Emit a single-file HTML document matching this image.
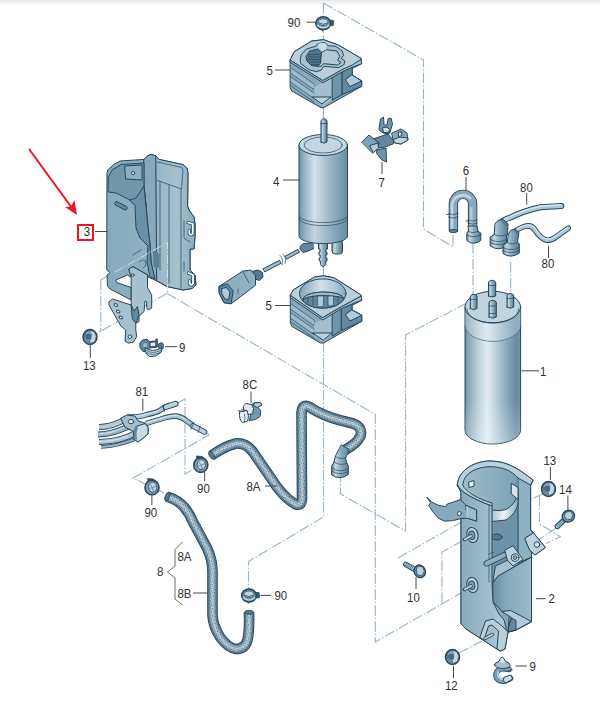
<!DOCTYPE html>
<html><head><meta charset="utf-8"><title>Fuel filter / pump parts diagram</title>
<style>
html,body{margin:0;padding:0;background:#fff;}
body{width:600px;height:705px;overflow:hidden;position:relative;}
svg{display:block;position:absolute;left:0;top:0;}
text{font-family:"Liberation Sans",sans-serif;font-size:12.2px;fill:#303030;}
.o{stroke:#27465a;stroke-width:1;stroke-linejoin:round;stroke-linecap:round;}
.t{stroke:#27465a;stroke-width:.7;fill:none;stroke-linejoin:round;stroke-linecap:round;}
.dd{stroke:#94b6c9;stroke-width:1.1;fill:none;stroke-dasharray:10.5 2 1.5 2;}
.ld{stroke:#484848;stroke-width:1;fill:none;}
.L{fill:#c6d9e4}.M{fill:#93b4c7}.D{fill:#6289a1}.K{fill:#466b82}
</style></head><body>
<svg width="600" height="705" viewBox="0 0 600 705">
<defs>
<linearGradient id="topsh" x1="0" y1="0" x2="0" y2="1"><stop offset="0" stop-color="#e6e6e6"/><stop offset="1" stop-color="#fff"/></linearGradient>
<linearGradient id="cyl" x1="0" y1="0" x2="1" y2="0">
<stop offset="0" stop-color="#7093a9"/><stop offset=".07" stop-color="#89aabd"/><stop offset=".22" stop-color="#b7cdd9"/><stop offset=".4" stop-color="#e2ecf1"/><stop offset=".56" stop-color="#b9cfdb"/><stop offset=".76" stop-color="#86a8bc"/><stop offset=".92" stop-color="#668ca4"/><stop offset="1" stop-color="#7196ac"/></linearGradient>
<linearGradient id="cyl2" x1="0" y1="0" x2="1" y2="0">
<stop offset="0" stop-color="#6a90a7"/><stop offset=".22" stop-color="#c4d8e3"/><stop offset=".5" stop-color="#8eafc2"/><stop offset="1" stop-color="#557d96"/></linearGradient>
<pattern id="dots" width="3" height="3" patternUnits="userSpaceOnUse" patternTransform="rotate(28)"><circle cx=".8" cy=".8" r=".62" fill="#2a495d"/><circle cx="2.3" cy="2.3" r=".62" fill="#2a495d"/></pattern>
</defs>
<rect width="600" height="705" fill="#fff"/>
<rect width="600" height="5" fill="url(#topsh)"/>
<!--LINES-->
<g class="dd">
<path d="M323.4 3V41M323.4 108V119M323.4 266V278"/>
<path d="M323.4 3L423.5 60V229L453 247V232"/>
<path d="M473 243V295M510.7 262V294"/>
<path d="M100.8 280L167.5 242.5V293.3L95 334.5M100.8 280V331.7"/>
<path d="M166.7 293.3L375.3 414.5V642L470 588"/>
<path d="M323.5 342V517L248.5 561.5V590"/>
<path d="M467 303L405.5 335V531L340.5 494V478"/>
<path d="M398 558L465 520M442 603V552L466 539"/>
<path d="M459 653L482 641"/>
<path d="M543.4 493.4L531.5 499.3M539.5 496V524L560.4 536.7L546 543.5M557 527.4L535.7 541.8"/>
<path d="M178 403L185 399V474L194 469M207 433L209 435L133 478L145 484M158 490L164 493"/>
</g>
<!--/LINES-->
<!--PARTS-->
<!--P3-->
<g id="p3">
<defs>
<linearGradient id="g3a" x1="0" y1="0" x2="1" y2="0"><stop offset="0" stop-color="#86a9bd"/><stop offset="1" stop-color="#9dbbcc"/></linearGradient>
<linearGradient id="g3b" x1="0" y1="0" x2="1" y2="0"><stop offset="0" stop-color="#95b5c7"/><stop offset=".5" stop-color="#a6c2d1"/><stop offset="1" stop-color="#8aacc0"/></linearGradient>
</defs>
<!-- main body -->
<path class="o" fill="url(#g3a)" d="M107 173L107.6 170L114 164.4L120 161L144 159.4L148 155.6L151 154.4L156 156L159 159.4L183 164.6L187 168L188 173L187.6 206L189 210L194 217L195 224L195 236L194 249L190 249L190 270L195 275L196 285L192 288.5L183 290L167 286.5L154 279.5L148 277L148 275L133 266.7L129 269L131.2 277.5L127.5 275L115.8 280L116.7 282.5L131.2 287.5L131.2 300L110 289L107.5 286L107 275L110 272.5L107 270Z"/>
<!-- center column -->
<path class="o" fill="#86a9bd" d="M144 159.4L148 155.6L151 154.4L156 156L157 161V281L154 279.5L151 262L150 244L148 228L146 206L144 186Z"/>
<!-- right block lighter -->
<path class="o" fill="url(#g3b)" d="M156 156L159 159.4L183 164.6L187 168L188 173L187.6 206L189 210L194 217L195 224L195 236L194 249L190 249L190 270L195 275L196 285L192 288.5L183 290L167 286.5L157 281Z"/>
<path class="t" d="M157 162L182 167.5L183 171L181.5 189L157.5 180.5" stroke-width=".8"/>
<path class="t" d="M160 182V270M169 185V283M181 189V288" stroke-width=".6"/>
<!-- top cavity -->
<path class="o" fill="#7297ad" d="M108.5 177L112 170L121 164.5L144 163V186L146 206L136 206L130 200L116 193L108.5 192Z"/>
<!-- channel -->
<path class="o" fill="#6a90a8" d="M130 200L136 198L144 186L146 206L148 228L150 244L151 262L155 279L150 277L147 262L148 246L140 238L136 228L135 206Z"/>
<!-- boss -->
<path class="o" fill="#8eb0c3" d="M125 166L142 165L142 180L126 179Z"/>
<circle cx="133" cy="173" r="1.6" fill="#eef4f7" class="o" stroke-width=".7"/>
<!-- slot -->
<path class="o" fill="#6289a1" stroke-width=".8" d="M116.5 201.5L126.5 206.5A2 2 0 0 1 125 210L115.5 205A2 2 0 0 1 116.5 201.5Z"/>
<path fill="#5a8098" d="M153 251Q158 250 159.5 256L159 267Q156 270 153.5 266Z"/>
<g fill="none" stroke-linecap="round" stroke-linejoin="round"><path d="M188 222.5L192.8 224V233.5Q191 236 189.3 233.5V230.5" stroke="#27465a" stroke-width="3.4"/><path d="M188 222.5L192.8 224V233.5Q191 236 189.3 233.5V230.5" stroke="#fff" stroke-width="1.8"/><path d="M188.5 273L193 275V283.5Q191.3 286 189.6 283.5V281" stroke="#27465a" stroke-width="3.4"/><path d="M188.5 273L193 275V283.5Q191.3 286 189.6 283.5V281" stroke="#fff" stroke-width="1.8"/></g>
<!-- hooks right -->
<path class="t" d="M184 221V238L190 242M184 262V271" stroke-width=".9"/>
<!-- lower mid clip lines -->
<path class="t" d="M139 262Q144 258 146 262Q147 266 143 268M133 255L141 250" stroke-width=".8"/>
<!-- vertical strip -->
<path class="o" fill="#a6c2d1" d="M129 269L133 266.7L147.5 275L147.5 287.5L151.7 295L151.7 308L148 310L146.7 307.5L146.7 301.7L145 301L144 311.7L139 316L139 321.7L135.8 323L135.8 330L136.7 336.7L133 342.5L128 343L125 341L125.8 330L120.8 326L109 305L109 301.7L112.5 299L131.2 305L131.2 277.5Z"/>
<circle cx="132.8" cy="275" r="1.3" fill="#eef4f7" class="o" stroke-width=".6"/>
<ellipse cx="115.8" cy="305" rx="1.8" ry="1.2" fill="#eef4f7" class="o" stroke-width=".6" transform="rotate(25 115.8 305)"/>
<ellipse cx="118.2" cy="311.5" rx="1.8" ry="1.2" fill="#eef4f7" class="o" stroke-width=".6" transform="rotate(25 118.2 311.5)"/>
<ellipse cx="120.8" cy="317.5" rx="1.8" ry="1.2" fill="#eef4f7" class="o" stroke-width=".6" transform="rotate(25 120.8 317.5)"/>
<circle cx="130" cy="336.7" r="1.8" fill="#eef4f7" class="o" stroke-width=".6"/>
<path class="o" fill="#6289a1" d="M131.2 305L134 311L137.5 306.5L139 316L135.8 323L132.5 319Z"/>
</g>
<!--/P3-->
<!--P5A-->
<g id="p5a">
<!-- silhouette -->
<path class="o" fill="#86a9bd" d="M290.3 59.7L294.3 51.7L311.7 41L323.7 39.7L338.3 45L361 58.3L361.7 63.7L352 68.5V75L361.7 81V86.3L323.7 107.7H321L291.7 91L290.3 88Z"/>
<!-- left face ribs -->
<path class="t" d="M291 68L314 84V89.5L291 73.5M291 77L314 93V98.5L291 82.5M291 86L314 102" stroke-width=".7"/>
<path fill="#9dbbcc" d="M291 68.5L314 84.5V89L291 73ZM291 77.5L314 93.5V98L291 82Z"/>
<!-- mid face: lighter left, darker right -->
<path fill="#a3bfcf" d="M314.3 87L323 82.5L332 78V98.5L323.7 106.5L314.3 100Z"/>
<path class="o" fill="#6f95ab" d="M332.5 77L342.3 71.5V94.5L332.5 100Z" stroke-width=".6"/>
<path class="o" fill="#bcd2de" d="M312.3 97H331L322.3 103.7Z" stroke-width=".6"/>
<!-- right arm -->
<path class="o" fill="#6289a1" d="M342.3 71.5L352.3 66.5V75L361.7 81V86.3L342.3 94.5Z"/>
<path class="o" fill="#b4ccd9" d="M352 75L361.7 81L350 86.5L345.5 80Z" stroke-width=".6"/>
<!-- top plate -->
<path class="o" fill="#a3bfcf" d="M290.3 59.7L323 80.3L342.3 69.4L361 59.4L361.7 63.7L352.3 67.3L342.3 71.8L323 82.7L290.5 62.5Z" stroke-width=".7"/>
<path class="o" fill="#b9d0dc" d="M290.3 59.7L294.3 51.7L311.7 41L323.7 39.7L338.3 45L361 58.3L361 59.4L352.3 65L342.3 69.4L333 74.7L323 80.3Z"/>
<!-- cavity lip -->
<path class="o" fill="#a6c2d1" d="M300.3 61L301 55L306.3 49L315.7 46.3L317.7 43.7L325 42.3L327.7 45.7L335.7 46.3L342.3 51L343.7 55.7L341 58.3L345 61L343.7 65L338.3 67.7L323.7 66.3L321 70.3L316.3 71.7L309 69.7L301 63.7Z"/>
<path class="o" fill="#4f768e" d="M306.3 56.3L309.7 51L318.3 49L321.7 52.3L320.3 63.7L317 66.3L311.7 65.7L307 61Z"/>
<path class="o" fill="#b0c9d6" d="M321.7 52.3L326.3 49.7L337 51L339.7 56.3L337.7 60.3L341 62.3L337.7 65L323.7 63.7L321 66.3L317 66.3L320.3 63.7Z" stroke-width=".6"/>
<path fill="#c9dbe5" d="M318.3 43.5L325 42.8L327 46L326 49.5L321.7 51.5L318.5 48.5Z"/>
<path class="t" d="M309 54.5H319M308.5 57H319.5M308.5 59.5H320M309.5 62H319.5M311 64.5H318.5" stroke-width=".45"/>
</g>
<!--/P5A-->
<!--P4-->
<g id="p4">
<defs><linearGradient id="cylp" x1="0" y1="0" x2="1" y2="0"><stop offset="0" stop-color="#7093a8"/><stop offset=".1" stop-color="#93b2c3"/><stop offset=".32" stop-color="#d3e1e8"/><stop offset=".55" stop-color="#a9c2d0"/><stop offset=".82" stop-color="#7fa2b6"/><stop offset="1" stop-color="#688da4"/></linearGradient></defs>
<!-- bottom fittings -->
<rect class="o" x="332" y="240" width="10.5" height="14" rx="3" fill="url(#cyl2)"/>
<path class="o" fill="url(#cyl2)" d="M318.5 240V249H320V252H319V255H320.2V258H319.2V261H320.4V264.5Q323 268.5 325.8 264.5V261H327V258H325.8V255H327V252H326V249H327.5V240Z"/>
<path class="o" fill="#5f869e" d="M312.5 243L304 243.5Q299.5 245 300 249L303 252.5L307 251.5L313 249Z"/>
<!-- body -->
<path class="o" fill="url(#cylp)" d="M299 145V236A24 7.5 0 0 0 347.5 236V145Z"/>
<path class="t" d="M299 215.5A24 7 0 0 0 347.5 215.5M299 218.5A24 7 0 0 0 347.5 218.5"/>
<path fill="#5a8199" opacity=".12" d="M299 218.5A24 7 0 0 0 347.5 218.5V236A24 7.5 0 0 1 299 236Z"/>
<ellipse class="o" cx="323.2" cy="145" rx="24.2" ry="10.5" fill="#c3d7e2"/>
<ellipse class="t" cx="323.2" cy="145" rx="19" ry="8" stroke-width=".5"/>
<path class="o" fill="url(#cyl2)" d="M321 142V120.5Q324 117 327 120.5V142Q324 144.5 321 142Z"/>
<path class="t" d="M320.6 123.5H327.4" stroke-width="1"/>
<!-- wire & connector -->
<path class="o" fill="#9dbbcc" d="M285.5 256L298 249.3L299.5 252.2L287 259Z"/>
<path class="o" fill="#9dbbcc" d="M263.5 268.5L279.5 260.3L281 263.3L265 271.7Z"/>
<path class="t" d="M280 255.5Q284 259 282 265M283 254Q287 257.5 285 263.5" stroke-width=".9"/>
<path class="o" fill="#54798f" d="M252 271.5L258 270L262.5 272.5L263 277L259.5 280.5L255 279Z"/>
<path class="o" fill="#8eb0c3" d="M219.3 286.3L242.7 271.2L250.8 270L255.5 275.8V285.2L245 293.3L231 303.8L224 302.7L219.3 293.3Z"/>
<path class="o" fill="#6289a1" d="M219.3 286.3L227.5 284L233.3 291L231 303.8L224 302.7L219.3 293.3Z"/>
<path class="o" fill="#b4ccd9" d="M222 288.5L226.5 287.5L230 292L228.5 299.5L225 299L222 294Z" stroke-width=".6"/>
<path class="t" d="M242.7 271.2L249 283M238 289V293.5" stroke-width=".8"/>
</g>
<!--/P4-->
<!--P5B-->
<g id="p5b">
<defs><linearGradient id="g5c" x1="0" y1="0" x2="1" y2="0"><stop offset="0" stop-color="#7ea2b7"/><stop offset=".45" stop-color="#d3e2ea"/><stop offset=".75" stop-color="#b0c9d6"/><stop offset="1" stop-color="#86a9bd"/></linearGradient></defs>
<path class="o" fill="#86a9bd" d="M290.5 295L293.5 289.75L314.5 277L323.5 275.8L334 277.75L361 295L361.75 300.25L352 305.5V310L361.75 315.25V321.25L323.5 343H320.5L292 326.5L290.5 323.5Z"/>
<path class="t" d="M291 304L314 320V325.5L291 309.5M291 313L314 329V334.5L291 318.5M291 322L314 338" stroke-width=".7"/>
<path fill="#9dbbcc" d="M291 304.5L314 320.5V325L291 309ZM291 313.5L314 329.5V334L291 318Z"/>
<path fill="#a3bfcf" d="M314.3 323L322.75 319L332 314V334L323.5 342L314.3 336Z"/>
<path class="o" fill="#6f95ab" d="M332.5 313L341.5 308V330.5L332.5 336Z" stroke-width=".6"/>
<path class="o" fill="#bcd2de" d="M313 333H332L323.5 340Z" stroke-width=".6"/>
<path class="o" fill="#6289a1" d="M341.5 308L352 303V310L361.75 315.25V321.25L341.5 330.5Z"/>
<path class="o" fill="#b4ccd9" d="M352 310L361.75 315.25L350 321L345.5 315Z" stroke-width=".6"/>
<path class="o" fill="#a3bfcf" d="M290.5 295L322.75 317.5L341.5 306.5L361 296L361.75 300.25L352 304L341.5 308.5L322.75 320L290.7 298Z" stroke-width=".7"/>
<path class="o" fill="#b9d0dc" d="M290.5 295L293.5 289.75L314.5 277L323.5 275.8L334 277.75L361 295L361 296L350.5 301.75L341.5 306.5L322.75 317.5Z"/>
<ellipse class="o" cx="322.75" cy="293.5" rx="23.25" ry="14.6" fill="url(#g5c)"/>
<path class="o" fill="#5f869e" d="M302.5 300.5Q303 293 322 292Q342 292 344 299Q338 308 322.75 308.1Q308 308 302.5 300.5Z"/>
<path class="o" fill="#9dbbcc" d="M302.5 300.5Q303 293 322 292Q342 292 344 299Q343 296 322.5 295.5Q305 296 302.5 300.5Z" stroke-width=".6"/>
<path class="t" d="M308 297V303M313 296V305M318 295.5V306M323 295.5V306.5M328 295.5V306M333 296V305M338 297V303" stroke-width=".5"/>
<path fill="#c9dbe5" d="M318 296.5H323V306H318ZM328.5 296.5H333V305H328.5Z" opacity=".8"/>
</g>
<!--/P5B-->
<!--P7-->
<g id="p7">
<path class="o" fill="#6f95ab" d="M377 150L386 148L386.5 162L382 160L377 154Z"/>
<path class="o" fill="#6289a1" d="M373 139L388 134L394 141L393 144L385 147L379 148L374 146Z"/>
<path class="o" fill="#7ea2b7" d="M362 142L369 135L379 143L378 148L373 153Z"/>
<path class="o" fill="#b4ccd9" d="M370 145.5L378 143L378.5 148L373.5 152.5Z" stroke-width=".6"/>
<path class="o" fill="#86a9bd" d="M392 133L401 129L407 133L408 140L401 144L395 143L393 139Z"/>
<path class="o" fill="#c3d6e1" d="M393.5 139.5L400 137L407.5 138L408 140L401 144L395 143Z" stroke-width=".6"/>
<path class="o" fill="#dfe9ef" d="M398.5 132.5L401.5 131.5L402 135.5L399 136.5Z" stroke-width=".6"/>
<path class="o" fill="#6f95ab" d="M379 129L380.5 119L383.5 117L384 125L387 125L388 119L391 118L392.5 124L391 129L390 133L385 134L380 131Z"/>
<path class="o" fill="#d0e0e9" d="M382.5 128L387 127L389.5 129.5L388.5 132.5L384 132.5Z" stroke-width=".6"/>
</g>
<!--/P7-->
<!--P6-->
<g id="p6">
<!-- U hose -->
<path d="M453.4 231V204A9.6 9.6 0 0 1 472.6 204V227" fill="none" stroke="#27465a" stroke-width="9.4" stroke-linecap="butt"/>
<path d="M453.4 230.5V204A9.6 9.6 0 0 1 472.6 204V227" fill="none" stroke="#86a9bd" stroke-width="7.6"/>
<path d="M452 230V204A11 11 0 0 1 471 199" fill="none" stroke="#c3d6e1" stroke-width="2.6"/>
<path d="M471.3 207V227" fill="none" stroke="#b4ccd9" stroke-width="2.4"/>
<ellipse cx="453.4" cy="231" rx="4.2" ry="1.6" class="o" fill="#6289a1"/>
<path class="t" d="M448.5 213.5Q453.4 216 458.3 213.5M448.5 217Q453.4 219.5 458.3 217M446.5 214.5H449M467.7 220Q472.6 222.5 477.5 220M467.7 223Q472.6 225.5 477.5 223M465.7 221H468" stroke-width=".9"/>
<!-- connector under right leg -->
<path class="o" fill="url(#cyl2)" d="M468.3 226H477L478 231.5L480.8 233V240.5Q473.5 246 466.8 240.5V233L468.3 231.5Z"/>
<path class="t" d="M467.5 231.5Q473 234 478.5 231.5M466.8 235Q473.5 238.5 480.8 235"/>
<!-- hoses 80 -->
<path d="M499 226Q500 221 510 217.7Q524 210.7 540.3 207.2L561.3 206" fill="none" stroke="#27465a" stroke-width="6" stroke-linecap="round"/>
<path d="M499 226Q500 221 510 217.7Q524 210.7 540.3 207.2L561.3 206" fill="none" stroke="#a9c4d3" stroke-width="4.2" stroke-linecap="round"/>
<path d="M500 224Q501 220 510 216.7Q524 209.7 540.3 206.2L560.3 205" fill="none" stroke="#d6e4eb" stroke-width="1.4" stroke-linecap="round"/>
<path d="M512.5 237Q512 231.5 521.7 227.5Q531 223.5 535 230Q540 238 546 240Q551 241 556 237L568.3 228.2" fill="none" stroke="#27465a" stroke-width="5.6" stroke-linecap="round"/>
<path d="M512.5 237Q512 231.5 521.7 227.5Q531 223.5 535 230Q540 238 546 240Q551 241 556 237L568.3 228.2" fill="none" stroke="#a9c4d3" stroke-width="3.8" stroke-linecap="round"/>
<path d="M513 235.5Q513 230.5 522 226.5Q531 222.5 535.5 229Q540.5 237 546 239Q551 240 555.5 236L567.5 227.4" fill="none" stroke="#d6e4eb" stroke-width="1.2" stroke-linecap="round"/>
<!-- connectors 80 -->
<path class="o" fill="url(#cyl2)" d="M495 224Q497 219.5 503 219.5L508 224L507.5 234.5L506.5 236V246Q498.5 251.5 490.2 246V237L494 234.5Z"/>
<path class="t" d="M494 234.5Q500 237.5 507.5 234.5M490.2 239.5Q498.5 244 506.5 239.5M490.2 242.5Q498.5 247 506.5 242.5M501 220.5L505.5 225M503.5 219.8L507.5 224"/>
<path class="o" fill="url(#cyl2)" d="M508.5 233.5Q510 229.5 515 229L519 232.5L517.5 242L519.3 244V253Q511 259 503 253.5V245L507 242.5Z"/>
<path class="t" d="M507 242.5Q512 245.5 517.5 242.5M503 247.5Q511 252 519.3 247.5M503 250.5Q511 255 519.3 250.5M513.5 229.5L517.5 233.5"/>
</g>
<!--/P6-->
<!--P1-->
<g id="p1">
<defs><linearGradient id="botgl" x1="0" y1="0" x2="0" y2="1"><stop offset="0" stop-color="#fff" stop-opacity="0"/><stop offset="1" stop-color="#fff" stop-opacity=".28"/></linearGradient></defs>
<path class="o" fill="url(#cyl)" d="M465 307V430A27.8 14 0 0 0 520.6 430V307Z"/>
<path fill="url(#botgl)" d="M465 400V430A27.8 14 0 0 0 520.6 430V400Z"/>
<path class="t" d="M465 325.6A27.8 15.7 0 0 0 520.6 325.6" />
<path fill="#dbe8ef" opacity=".35" d="M465 307A27.8 15.7 0 0 0 520.6 307V325.6A27.8 15.7 0 0 1 465 325.6Z"/>
<ellipse class="o" cx="492.8" cy="307" rx="27.8" ry="15.7" fill="#bfd4df"/>
<path class="t" d="M467 309A25.8 14.2 0 0 0 518.6 309" stroke-width=".5"/>
<!-- nipples -->
<g class="o" fill="url(#cyl2)">
<path d="M488.5 296V282Q492 278.5 495.7 282V296Q492 298 488.5 296Z"/>
<path d="M470.3 308.5V296Q473.6 292.5 477 296V308.5Q473.6 311 470.3 308.5Z"/>
<path d="M507 307V295Q510.3 291.8 513.7 295V307Q510.3 309.5 507 307Z"/>
<path d="M489 317V302Q492.6 298.5 496.3 302V317Q492.6 319.5 489 317Z"/>
</g>
<path class="t" d="M488.3 285.5H495.9M470.1 299.5H477.2M506.8 298.5H513.9M488.8 306H496.5M489 313.5H496.3" stroke-width=".8"/>
</g>
<!--/P1-->
<!--P2-->
<g id="p2">
<defs>
<linearGradient id="g2a" x1="0" y1="0" x2="1" y2="0"><stop offset="0" stop-color="#a3bfcf"/><stop offset=".5" stop-color="#86a9bd"/><stop offset="1" stop-color="#6b91a8"/></linearGradient>
<linearGradient id="g2b" x1="0" y1="0" x2="1" y2="0"><stop offset="0" stop-color="#86a9bd"/><stop offset=".6" stop-color="#9dbbcc"/><stop offset="1" stop-color="#b4ccd9"/></linearGradient>
<linearGradient id="g2c" x1="0" y1="0" x2="1" y2="0"><stop offset="0" stop-color="#a6c2d1"/><stop offset=".45" stop-color="#eef4f7"/><stop offset="1" stop-color="#86a9bd"/></linearGradient>
<linearGradient id="g2d" x1="0" y1="0" x2="1" y2="0"><stop offset="0" stop-color="#668ca4"/><stop offset=".35" stop-color="#86a9bd"/><stop offset="1" stop-color="#9bbacb"/></linearGradient>
</defs>
<!-- silhouette / back wall -->
<path class="o" fill="url(#g2a)" d="M457.4 485C458 470 475 461 490 461C510 461 522 472 533 480L530.6 485V530L533.4 532.8L545.4 547.5L535 555L531.5 552V622L516 630L508 632L505 649L500 651L466 629L461 624V492Z"/>
<!-- back wall below strap (darker) -->
<path fill="#6d93aa" d="M492 523L518.4 507V560L493 575Z"/>
<ellipse cx="497" cy="537" rx="5" ry="3" fill="#54798f" class="o" stroke-width=".6"/>
<!-- interior lower -->
<path class="o" fill="url(#g2d)" d="M493 583L497.5 576L531.5 557V621.5L516 630L508 632L509.5 612L502 611.5L499 608L493 602Z"/>
<path class="o" fill="#b4ccd9" d="M502 611.5L510.5 610.5L531.5 621.5L516 630L508.5 632L509 625L511.5 618Z" stroke-width=".7"/>
<path class="o" fill="#6289a1" d="M509 625L511.5 618L516 620.5V629.8L508.5 632Z" stroke-width=".6"/>
<!-- shelf -->
<path class="o" fill="#a6c2d1" d="M495.7 566L522 553L531.5 557L498 576L493 582Z"/>
<!-- strap band -->
<path class="o" fill="url(#g2c)" d="M492 510Q500 511.5 506 509.5Q515 505 518.4 493V503Q516 514 506 520L492 521.5Z"/>
<!-- right flange -->
<path class="o" fill="#8fb1c4" d="M518.4 477L524 475L533 480L530.6 485V530L533.4 532.8L525 538.3L529.7 550L531.5 552V557L518.4 563Z"/>
<path fill="#6d93aa" d="M514 484Q518.8 488 518.4 500L518.4 478Z"/>
<path class="o" fill="#bcd2de" d="M525 538.3L533.4 532.8L545.4 547.5L535 555L529.7 550Z"/>
<circle cx="537" cy="544.5" r="2.8" fill="#dfe9ef" class="o" stroke-width=".7"/>
<path class="o" fill="#d9e6ed" stroke-width=".6" d="M511.5 483.5L518 487.5V499.5L511.5 494Z"/>
<!-- top rim -->
<path class="o" fill="#b9d0dc" d="M457.4 485C458 470 475 461 490 461C510 461 522 472 533 480L530.6 485L518 478C511 470 502 467 490 466.6C478 467 464 472 462.6 485C466 492 478 499 492 503V506C475 500 460 492 457.4 485Z"/>
<path fill="#f4f8fa" class="o" stroke-width=".6" d="M469 482L474 480.5V486L469.5 487.5Z"/>
<!-- front panel -->
<path class="o" fill="url(#g2b)" d="M457.4 485C460 492 475 500 492 506V583L493 602L499 614L504 620L506 628L505 649L500 651L466 629L461 624V493Z"/>
<path class="t" d="M489 505V582" stroke-width=".6"/>
<!-- left strap arm -->
<path class="o" fill="#86a9bd" d="M427 497.3L431.7 502L438.7 505.4L445.7 506.6L446.8 504.3L460.3 499.6L466 505.4L476.6 510V521.2L467.8 518.3L462 518.3L452.7 520.6L444.5 521.2L438.7 518.3L432.8 511.8L428.8 505.4L430.3 503Z"/>
<path class="o" fill="#9dbbcc" d="M466 505.4L476.6 510V521.2L467.8 518.3Z"/>
<path fill="#c3d6e1" d="M466.3 506L467.8 506.8V518L466.3 517.8Z"/>
<circle cx="459.4" cy="513.6" r="2" fill="#f2f6f8" class="o" stroke-width=".7"/>
<!-- slot & bracket -->
<path d="M486.5 563.5L504.5 555" stroke="#27465a" stroke-width="6" stroke-linecap="round"/>
<path d="M486.5 563.5L504.5 555" stroke="#8eb0c3" stroke-width="4.2" stroke-linecap="round"/>
<path class="t" d="M489 554L494 552" stroke-width="1.2"/>
<path class="o" fill="#bcd2de" d="M505 550L513 545.7L523 559.5L513 566L507.6 560.4Z"/>
<circle cx="515" cy="557.6" r="3.8" fill="#d4e2ea" class="o" stroke-width=".7"/>
<circle cx="515" cy="557.6" r="1.8" fill="#a3bfcf" class="o" stroke-width=".6"/>
<!-- studs -->
<ellipse cx="472.4" cy="535" rx="5.6" ry="7.6" fill="#b9d0dc" class="o" transform="rotate(-12 472.4 535)"/>
<ellipse cx="471.8" cy="535.3" rx="3" ry="4.2" fill="#7da1b7" class="o" stroke-width=".7" transform="rotate(-12 471.8 535.3)"/>
<path d="M471 536L464.5 539.5" stroke="#27465a" stroke-width="3.6" stroke-linecap="round"/>
<path d="M471 536L464.5 539.5" stroke="#bcd2de" stroke-width="2" stroke-linecap="round" stroke-dasharray="1 1"/>
<ellipse cx="472.4" cy="585" rx="5.6" ry="7.6" fill="#b9d0dc" class="o" transform="rotate(-12 472.4 585)"/>
<ellipse cx="471.8" cy="585.3" rx="3" ry="4.2" fill="#7da1b7" class="o" stroke-width=".7" transform="rotate(-12 471.8 585.3)"/>
<path d="M471 586L464.5 589.5" stroke="#27465a" stroke-width="3.6" stroke-linecap="round"/>
<path d="M471 586L464.5 589.5" stroke="#bcd2de" stroke-width="2" stroke-linecap="round" stroke-dasharray="1 1"/>
<!-- bottom bracket -->
<path class="o" fill="#b9d0dc" d="M480 637L485.5 621L493 619L502 626L508 632L505 649L500 651L497 648.5L498.5 631L492 625L488.5 626L484 640Z"/>
<path d="M492.5 634.5L485 638.5" stroke="#27465a" stroke-width="3.4" stroke-linecap="round"/>
<path d="M492.5 634.5L485 638.5" stroke="#bcd2de" stroke-width="1.8" stroke-linecap="round" stroke-dasharray="1 1"/>
</g>
<!--/P2-->
<!--P81-->
<g id="p81">
<!-- pipes left of bracket -->
<g fill="none" stroke-linecap="butt">
<path d="M99 427Q110 427 121 421.5L128 418.5" stroke="#27465a" stroke-width="6"/>
<path d="M99 427Q110 427 121 421.5L128 418.5" stroke="#b4ccd9" stroke-width="4.2"/>
<path d="M98 434.5Q112 434 125 428L134 424" stroke="#27465a" stroke-width="6"/>
<path d="M98 434.5Q112 434 125 428L134 424" stroke="#95b5c7" stroke-width="4.2"/>
<path d="M98 434Q112 433.5 125 427" stroke="#cfdfe8" stroke-width="1.2"/>
<path d="M99 442Q116 441.5 128 436.5L136 433" stroke="#27465a" stroke-width="6"/>
<path d="M99 442Q116 441.5 128 436.5L136 433" stroke="#a9c4d3" stroke-width="4.2"/>
<path d="M99 441.5Q116 441 128 436" stroke="#d6e4eb" stroke-width="1.2"/>
<path d="M101 447Q118 446 134 439.5" stroke="#27465a" stroke-width="3.6"/>
<path d="M101 447Q118 446 134 439.5" stroke="#95b5c7" stroke-width="2"/>
</g>
<!-- upper pipe -->
<path d="M127 417Q140 417.5 147 414.5Q155 413 159 411Q162 409 165 407L170 405" fill="none" stroke="#27465a" stroke-width="5.4"/>
<path d="M127 417Q140 417.5 147 414.5Q155 413 159 411Q162 409 165 407L170 405" fill="none" stroke="#a9c4d3" stroke-width="3.6"/>
<path d="M127 416.3Q140 416.8 147 413.8Q155 412.3 159 410.3" fill="none" stroke="#d6e4eb" stroke-width="1.1"/>
<path d="M166 407L175.5 403.8" stroke="#27465a" stroke-width="6" stroke-linecap="round"/>
<path d="M166 407L175.5 403.8" stroke="#b9d0dc" stroke-width="4.2" stroke-linecap="round"/>
<path class="t" d="M162.5 405.5L164.5 411.5" stroke-width="1.8"/>
<!-- lower pipe -->
<path d="M146 423.5Q154 421 161 419Q170 416 176 416Q182 417 186 420.5L193 425.5" fill="none" stroke="#27465a" stroke-width="5.4"/>
<path d="M146 423.5Q154 421 161 419Q170 416 176 416Q182 417 186 420.5L193 425.5" fill="none" stroke="#a9c4d3" stroke-width="3.6"/>
<path d="M146 422.8Q154 420.3 161 418.3Q170 415.3 176 415.3Q182 416.3 186 419.8" fill="none" stroke="#d6e4eb" stroke-width="1.1"/>
<path d="M193 426L204.5 432" stroke="#27465a" stroke-width="5.6" stroke-linecap="round"/>
<path d="M193 426L204.5 432" stroke="#b9d0dc" stroke-width="3.8" stroke-linecap="round"/>
<path class="t" d="M194 422.5L191 429.5M200.5 426L198 432.5" stroke-width="1.8"/>
<!-- bracket -->
<path class="o" fill="#a3bfcf" d="M121 418L127 415L135 416L138 421L145 423L148 427V434L138 442L133 439L134 432L125 427Z"/>
<path class="o" fill="#c9dbe5" d="M134 432L136 426.5L145 423.5L148 427V434L138 442L133.5 439Z"/>
<path fill="#6289a1" d="M134 432L136 426.5L138 427L136.5 433L137 440L133.5 439Z"/>
<ellipse cx="131" cy="421.6" rx="2.7" ry="2.2" fill="#eef4f7" class="o" stroke-width=".7"/>
</g>
<!--/P81-->
<!--P8-->
<g id="p8" fill="none" stroke-linecap="butt" stroke-linejoin="round">
<!-- 8A -->
<g id="h8a">
<path id="c8a" d="M211.5 455.5Q225 446 236 443.5Q246 442.5 253 452L277 487Q287 500 296 504.5Q302.5 506 302 497L301.5 413Q302 403 309.5 407Q324 416.5 341 420.5L353 423.5Q363 427 360.5 436Q357 443.5 345 450" stroke="#27465a" stroke-width="10.6"/>
<path d="M211.5 455.5Q225 446 236 443.5Q246 442.5 253 452L277 487Q287 500 296 504.5Q302.5 506 302 497L301.5 413Q302 403 309.5 407Q324 416.5 341 420.5L353 423.5Q363 427 360.5 436Q357 443.5 345 450" stroke="#5f869e" stroke-width="8.8"/>
<path d="M211.5 455.5Q225 446 236 443.5Q246 442.5 253 452L277 487Q287 500 296 504.5Q302.5 506 302 497L301.5 413Q302 403 309.5 407Q324 416.5 341 420.5L353 423.5Q363 427 360.5 436Q357 443.5 345 450" stroke="#a3bfcf" stroke-width="5.8"/>
<path d="M211.5 455.5Q225 446 236 443.5Q246 442.5 253 452L277 487Q287 500 296 504.5Q302.5 506 302 497L301.5 413Q302 403 309.5 407Q324 416.5 341 420.5L353 423.5Q363 427 360.5 436Q357 443.5 345 450" stroke="#d3e2ea" stroke-width="2.6"/>
<path d="M211.5 455.5Q225 446 236 443.5Q246 442.5 253 452L277 487Q287 500 296 504.5Q302.5 506 302 497L301.5 413Q302 403 309.5 407Q324 416.5 341 420.5L353 423.5Q363 427 360.5 436Q357 443.5 345 450" stroke="url(#dots)" stroke-width="8.8"/>
<ellipse cx="211.8" cy="455.5" rx="2.2" ry="4.4" fill="#54798f" stroke="#27465a" stroke-width=".8" transform="rotate(-35 211.8 455.5)"/>
</g>
<!-- quick connector on 8A end -->
<path class="o" fill="url(#cyl2)" d="M341.5 445L349.5 449.5L345.5 458L347 463.5L348.3 466V474.5Q340 480.5 331.7 475V466L334 462L335.5 456Z"/>
<path class="t" d="M335.5 456.5Q340.5 460 345.8 457.5M334 462Q340 466 347 463.5M331.7 468Q340 473.5 348.3 468.5M331.7 471Q340 476.5 348.3 471.5"/>
<!-- 8B -->
<path d="M167 496.5Q178 500 184 507Q190 514 193 522L207 548Q212.5 560 212.5 572V615Q213 626 220 637Q228 648 236 649Q245 649 247.5 640Q249.5 632 249 612" stroke="#27465a" stroke-width="10.6"/>
<path d="M167 496.5Q178 500 184 507Q190 514 193 522L207 548Q212.5 560 212.5 572V615Q213 626 220 637Q228 648 236 649Q245 649 247.5 640Q249.5 632 249 612" stroke="#5f869e" stroke-width="8.8"/>
<path d="M167 496.5Q178 500 184 507Q190 514 193 522L207 548Q212.5 560 212.5 572V615Q213 626 220 637Q228 648 236 649Q245 649 247.5 640Q249.5 632 249 612" stroke="#a3bfcf" stroke-width="5.8"/>
<path d="M167 496.5Q178 500 184 507Q190 514 193 522L207 548Q212.5 560 212.5 572V615Q213 626 220 637Q228 648 236 649Q245 649 247.5 640Q249.5 632 249 612" stroke="#d3e2ea" stroke-width="2.6"/>
<path d="M167 496.5Q178 500 184 507Q190 514 193 522L207 548Q212.5 560 212.5 572V615Q213 626 220 637Q228 648 236 649Q245 649 247.5 640Q249.5 632 249 612" stroke="url(#dots)" stroke-width="8.8"/>
<ellipse cx="167.3" cy="496.7" rx="2.2" ry="4.4" fill="#54798f" stroke="#27465a" stroke-width=".8" transform="rotate(20 167.3 496.7)"/>
<ellipse cx="249" cy="612.3" rx="4.4" ry="2" fill="#54798f" stroke="#27465a" stroke-width=".8"/>
</g>
<!--/P8-->
<!--SMALL-->
<g id="small">
<defs>
<radialGradient id="rg" cx=".45" cy=".4" r=".6"><stop offset="0" stop-color="#e3edf2"/><stop offset=".6" stop-color="#9dbbcc"/><stop offset="1" stop-color="#5f869e"/></radialGradient>
<g id="clampR">
<rect x="6" y="-3" width="4.4" height="5.4" rx="1" fill="#3b5d73" stroke="#27465a" stroke-width=".8"/>
<ellipse cx="0" cy="0" rx="7.3" ry="6.5" fill="#7da1b7" stroke="#27465a" stroke-width="1.6"/>
<ellipse cx="0" cy="-1.2" rx="5" ry="3.4" fill="#c3d6e1" stroke="#27465a" stroke-width=".8"/>
<path d="M-4.5 -.5Q0 2.5 4.5 -.5" fill="none" stroke="#27465a" stroke-width=".8"/>
<path d="M-6.3 2Q0 7 6.3 2" fill="none" stroke="#c3d6e1" stroke-width="1.1"/>
<path d="M-1 6.3L-.5 8" stroke="#27465a" stroke-width="1.2"/>
</g>
<g id="clampD">
<path d="M-4.5 -9L1.5 -8.5L3.5 -5L-3.5 -5.5Z" fill="#3b5d73" stroke="#27465a" stroke-width=".8"/>
<ellipse cx="0" cy="0" rx="7" ry="7.4" fill="#7da1b7" stroke="#27465a" stroke-width="1.6"/>
<ellipse cx=".6" cy="-.3" rx="4.2" ry="5" fill="#c3d6e1" stroke="#27465a" stroke-width=".8"/>
<path d="M-2.5 -3.5Q1 -1 1.5 4M-3.3 1Q.5 .5 4.5 -1.5" fill="none" stroke="#5f869e" stroke-width=".9"/>
</g>
<g id="nut">
<ellipse cx="0" cy="0" rx="7" ry="7.5" fill="#6f95ab" stroke="#27465a" stroke-width="1.5"/>
<path d="M-1 -6.5L4 -5.5L6.3 -1L5 4.5L.5 6.5L-1 3Z" fill="#c3d6e1" stroke="#27465a" stroke-width=".6"/>
<path d="M-4.6 -4L-1 -6.5L1.5 -2.5L.5 2.5L-1.5 5L-5 1.5Z" fill="#9dbbcc" stroke="#27465a" stroke-width=".6"/>
<ellipse cx="-1.6" cy="-.4" rx="2.3" ry="2.9" fill="#466b82" stroke="#27465a" stroke-width=".6"/>
</g>
</defs>
<use href="#clampR" x="323.2" y="23.3"/>
<use href="#clampR" x="249" y="595.5"/>
<use href="#clampD" x="200.8" y="465"/>
<use href="#clampD" x="152" y="487.5"/>
<use href="#nut" x="90" y="337"/>
<use href="#nut" x="548.5" y="489"/>
<use href="#nut" x="452.5" y="657"/>
<!-- bolt 10 -->
<path d="M405.8 564.3L415.5 570" stroke="#27465a" stroke-width="5.4" stroke-linecap="round"/>
<path d="M405.8 564.3L415.5 570" stroke="#b4ccd9" stroke-width="3.4" stroke-linecap="round"/>
<path d="M405.8 564.3L415.5 570" stroke="#3e6076" stroke-width="3.4" stroke-dasharray=".7 1.1"/>
<ellipse cx="419.8" cy="571.3" rx="5.6" ry="6.4" fill="#6f95ab" stroke="#27465a" stroke-width="1.3" transform="rotate(-25 419.8 571.3)"/>
<path d="M417.8 566L422.8 567L424.3 571.5L421.8 576L417.3 574.7L416.2 570Z" fill="#b9d0dc" stroke="#27465a" stroke-width=".8"/>
<!-- bolt 14 -->
<path d="M557.3 526.5L564.5 519.5" stroke="#27465a" stroke-width="5.4" stroke-linecap="round"/>
<path d="M557.3 526.5L564.5 519.5" stroke="#b4ccd9" stroke-width="3.4" stroke-linecap="round"/>
<path d="M557.3 526.5L564.5 519.5" stroke="#3e6076" stroke-width="3.4" stroke-dasharray=".7 1.1"/>
<ellipse cx="568.4" cy="516.2" rx="6.4" ry="5.8" fill="#6f95ab" stroke="#27465a" stroke-width="1.3" transform="rotate(-30 568.4 516.2)"/>
<path d="M565.3 512.5L570 511L573 514.5L571.5 519L567 520L564.5 516.5Z" fill="#b9d0dc" stroke="#27465a" stroke-width=".8"/>
<!-- clip 9 left -->
<g id="clip9">
<path class="o" fill="#5f869e" d="M140 343L142.5 340L147 339.3L149.5 341.5L156 341V339L157.3 339V347L149 348L148 351.5L143 351.5L140.3 348Z"/>
<path class="o" fill="#e6eef3" d="M150.3 342.3L155.8 341.8V346.3L150.3 347Z" stroke-width=".6"/>
<path fill="#9dbbcc" d="M143.5 343.5L146.5 343L147.5 346L145 348L143 346Z"/>
<path class="o" fill="#54798f" d="M158.7 344L161.5 342.6L163.2 344V348.5L160.5 350L158.7 348Z"/>
<path class="o" fill="#c9dbe5" d="M145.3 347.8Q152 353 161.5 348L161.2 352.3Q156.5 357.3 150 356.6Q146 355 145.3 351.5Z"/>
<path class="t" d="M145.5 350Q152 355 161.3 350.2M146.5 352.5Q152 356.5 160 352.5" stroke-width=".6"/>
</g>
<!-- clip 9 right -->
<path d="M509 669.5Q498 666.5 496 674Q496 682 505 681L510.5 678.5" fill="none" stroke="#27465a" stroke-width="5.6" stroke-linecap="round"/>
<path d="M509 669.5Q498 666.5 496 674Q496 682 505 681L510.5 678.5" fill="none" stroke="#7da1b7" stroke-width="3.8" stroke-linecap="round"/>
<path d="M498 672Q497 679 504 679.5" fill="none" stroke="#d6e4eb" stroke-width="1.4" stroke-linecap="round"/>
<path class="o" fill="#c9dbe5" d="M504.5 677L511 675L512.6 679L506 683L503.5 681Z" stroke-width=".8"/>
<path class="o" fill="#a3bfcf" d="M494.5 665Q495 662 499 661.5L500.3 658.5Q502.2 655.5 504 658.5L505.5 661.5Q510 662.5 510.3 665.5Q509 668.5 502.3 668.5Q495.5 668 494.5 665Z"/>
<path fill="#d6e4eb" d="M499.5 662L501 658.8Q502.2 657 503.3 658.8L505 662Q502.2 664 499.5 662Z"/>
<path class="t" d="M508 671L512.5 669.8" stroke-width="1.2"/>
<!-- clip 8C -->
<path class="o" fill="#7398ae" d="M250 405.5L254.5 402.8L260.5 402.5L261.7 405L257.5 407.5L260.8 410.5L260 416.5L255.5 419.5L249.5 420.5L251 412Z"/>
<path class="o" fill="#b9d0dc" d="M254.5 402.8L260.5 402.5L261.7 405L257.5 407.5L254 406Z" stroke-width=".7"/>
<path class="o" fill="#dfe9ef" d="M243.5 406L246 403.5L251.5 404.5L253.5 408.5L252.5 414L247 414.5L244 411Z" stroke-width=".8"/>
<path class="o" fill="#e9f0f4" d="M239.5 412L247 410.5Q249.5 416 247.8 421L242.5 422.6Q238.8 419.5 239.5 412Z" stroke-width=".9"/>
<path class="t" d="M238.3 410.5L244 411.5M241.5 409.5L247 410.5M244.5 414Q245.5 418 244.5 421.8" stroke-width=".9"/>
</g>
<!--/SMALL-->
<!--OVER-->
<g fill="none" stroke="#dbe7ee" stroke-width="1" stroke-dasharray="9 2 1.5 2" opacity=".85">
<path d="M115 272L167.5 242.5V288"/>
</g>
<!--/OVER-->
<!--TEXT-->
<g class="ld">
<path d="M306.5 22.2H316M275 70H290M283 180H299M275 305.5H290M382 162V174M466 177V190M526.7 193V204.5M548.5 246V258M521.5 370.8H539M550.4 467V480M567.9 495.5V509.5M536 598.7H545.5M416 577V589M453.5 666V678M515.5 666H527M95 231.5H107.5M90.3 344V358M165 346.7H177M142.8 398.7V410.7M204.7 472V481M151.9 496V505M251 391.7V403M265 486H277M193 593H208M260.5 595.4H271"/>
<path d="M182.5 542L175 549.5V566L167.5 572L175 578V599L182.5 605" stroke-width=".8"/>
</g>
<g transform="scale(.94 1)">
<text x="305.9" y="26.9">90</text>
<text x="283.5" y="74.9">5</text>
<text x="290.4" y="185.9">4</text>
<text x="282.4" y="310.4">5</text>
<text x="402.7" y="187.4">7</text>
<text x="492.3" y="175.4">6</text>
<text x="553.2" y="192.2">80</text>
<text x="576.1" y="268.2">80</text>
<text x="574.5" y="375.9">1</text>
<text x="578.2" y="465.4">13</text>
<text x="594.7" y="493.9">14</text>
<text x="583.5" y="603.4">2</text>
<text x="433.0" y="601.9">10</text>
<text x="473.4" y="689.9">12</text>
<text x="563.3" y="670.9">9</text>
<text x="89.1" y="236.5">3</text>
<text x="88.3" y="370.4">13</text>
<text x="190.4" y="351.9">9</text>
<text x="144.1" y="396.3">81</text>
<text x="209.6" y="492.9">90</text>
<text x="153.7" y="516.9">90</text>
<text x="258.0" y="389.4">8C</text>
<text x="262.2" y="490.9">8A</text>
<text x="167.0" y="575.9">8</text>
<text x="188.8" y="560.9">8A</text>
<text x="188.8" y="598.4">8B</text>
<text x="292.0" y="599.9">90</text>
</g>
<rect x="78" y="225" width="15" height="15" fill="none" stroke="#f0141e" stroke-width="2"/>
<path d="M29 149L72 208" stroke="#f0141e" stroke-width="2" fill="none"/>
<path d="M77 215L65 207L71 206.5L74.4 200Z" fill="#f0141e"/>
<!--/TEXT-->
</svg>
</body></html>
